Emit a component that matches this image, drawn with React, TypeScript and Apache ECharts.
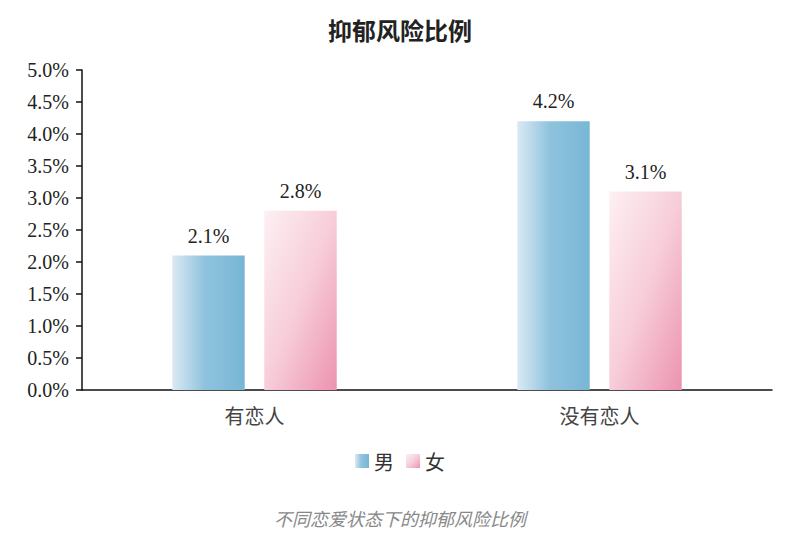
import {useEffect, useRef} from 'react';
import * as echarts from 'echarts';

const categories = ['有恋人', '没有恋人'];
const maleValues = [2.1, 4.2];
const femaleValues = [2.8, 3.1];
const seriesNames = ['男', '女'];

const serif = '"Liberation Serif", "Times New Roman", serif';
const cjk = '"Noto Sans CJK SC", sans-serif';

export default function App() {
    const ref = useRef<HTMLDivElement | null>(null);

    useEffect(() => {
        document.body.style.margin = '0';
        if (!ref.current) return;
        const chart = echarts.init(ref.current, null, {renderer: 'svg'});

        const maleColor = new echarts.graphic.LinearGradient(0, 0, 1, 0, [
            {offset: 0, color: '#dbe9f4'},
            {offset: 0.45, color: '#8fc3dd'},
            {offset: 1, color: '#78b6d5'}
        ]);
        const femaleColor = new echarts.graphic.LinearGradient(0, 0, 1, 1, [
            {offset: 0, color: '#fdf0f3'},
            {offset: 0.5, color: '#f7cdd9'},
            {offset: 1, color: '#ec93af'}
        ]);

        const label = {
            show: true,
            position: 'top',
            distance: 10,
            formatter: (p: any) => p.value.toFixed(1) + '%',
            fontFamily: serif,
            fontSize: 20,
            color: '#222'
        };

        chart.setOption({
            animation: false,
            backgroundColor: '#fff',
            title: {
                text: '抑郁风险比例',
                left: 'center',
                top: 12,
                textStyle: {fontFamily: cjk, fontSize: 24, fontWeight: 'bold', color: '#222'}
            },
            legend: {
                data: seriesNames,
                bottom: 67,
                left: 'center',
                itemWidth: 14,
                itemHeight: 14,
                itemGap: 12,
                icon: 'rect',
                textStyle: {fontFamily: cjk, fontSize: 20, color: '#333'}
            },
            grid: {left: 82, right: 28, top: 70, bottom: 153},
            xAxis: {
                type: 'category',
                data: categories,
                axisLine: {lineStyle: {color: '#111', width: 1.5}},
                axisTick: {show: false},
                axisLabel: {fontFamily: cjk, fontSize: 20, color: '#444', margin: 15}
            },
            yAxis: {
                type: 'value',
                min: 0,
                max: 5,
                interval: 0.5,
                splitLine: {show: false},
                axisLine: {show: true, lineStyle: {color: '#111', width: 1.5}},
                axisTick: {show: true, length: 6, lineStyle: {color: '#111', width: 1.5}},
                axisLabel: {
                    fontFamily: serif,
                    fontSize: 20,
                    color: '#222',
                    margin: 13,
                    formatter: (v: number) => v.toFixed(1) + '%'
                }
            },
            series: [
                {
                    name: seriesNames[0],
                    type: 'bar',
                    data: maleValues,
                    barWidth: '21%',
                    barGap: '27%',
                    itemStyle: {color: maleColor},
                    label
                },
                {
                    name: seriesNames[1],
                    type: 'bar',
                    data: femaleValues,
                    barWidth: '21%',
                    itemStyle: {color: femaleColor},
                    label
                }
            ],
            graphic: [
                {
                    type: 'text',
                    left: 'center',
                    top: 509,
                    style: {
                        text: '不同恋爱状态下的抑郁风险比例',
                        font: 'italic 18px "Noto Sans CJK SC", sans-serif',
                        fill: '#888'
                    }
                }
            ]
        });

        return () => chart.dispose();
    }, []);

    return <div ref={ref} style={{width: 800, height: 543}}/>;
}
